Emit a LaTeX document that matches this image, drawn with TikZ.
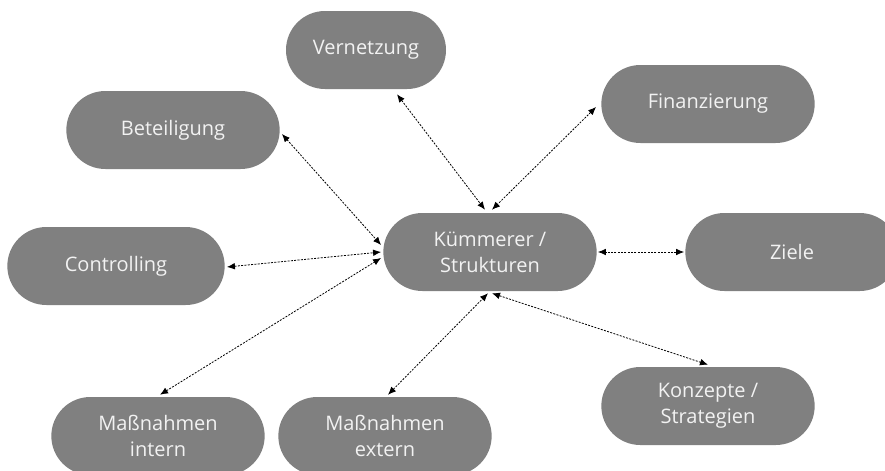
\documentclass[tikz,border=0pt]{standalone}
\usepackage{fontspec}
\setmainfont{Open Sans}
\usetikzlibrary{shapes.misc,arrows.meta}
\definecolor{boxgray}{HTML}{808080}
\definecolor{boxtext}{HTML}{F2F2F2}
\tikzset{
  topic/.style={rounded rectangle, fill=boxgray, text=boxtext, minimum width=160pt,
    minimum height=58.5pt, inner sep=0pt, align=center,
    font=\fontsize{15}{19.5}\selectfont},
  link/.style={{Latex[length=6pt,width=5pt]}-{Latex[length=6pt,width=5pt]},
    dash pattern=on 1.5pt off 1pt, line width=0.6pt}
}
\begin{document}
\begin{tikzpicture}[x=0.75pt,y=-0.75pt]
\useasboundingbox (0,0) rectangle (885,471);
\node[topic] (kuem) at (490,252){Kümmerer /\\Strukturen};
\node[topic, minimum width=120pt] (vern) at (366,50){Vernetzung};
\node[topic] (fina) at (708,104){Finanzierung};
\node[topic] (bete) at (173,130){Beteiligung};
\node[topic, minimum width=163pt] (cont) at (116,266){Controlling};
\node[topic] (ziel) at (792,252){Ziele};
\node[topic] (mint) at (158,436){Maßnahmen\\intern};
\node[topic] (mext) at (385,436){Maßnahmen\\extern};
\node[topic] (konz) at (708,406){Konzepte /\\Strategien};
\draw[link] ([shift={(31,5)}]vern.south) -- ([shift={(-5,-3)}]kuem.north);
\draw[link] ([shift={(-5,3)}]fina.west) -- ([shift={(2,-3)}]kuem.north);
\draw[link] ([shift={(2,4)}]bete.east) -- ([shift={(-2,-7)}]kuem.west);
\draw[link] ([shift={(2,1)}]cont.east) -- ([shift={(-2,0)}]kuem.west);
\draw[link] ([shift={(-1,0)}]ziel.west) -- ([shift={(1,0)}]kuem.east);
\draw[link] ([shift={(2,-2)}]mint.north) -- ([shift={(-2,6)}]kuem.west);
\draw[link] ([shift={(3,-2)}]mext.north) -- ([shift={(-2,2)}]kuem.south);
\draw[link] ([shift={(0,-2)}]konz.north) -- ([shift={(2,2)}]kuem.south);
\end{tikzpicture}
\end{document}
